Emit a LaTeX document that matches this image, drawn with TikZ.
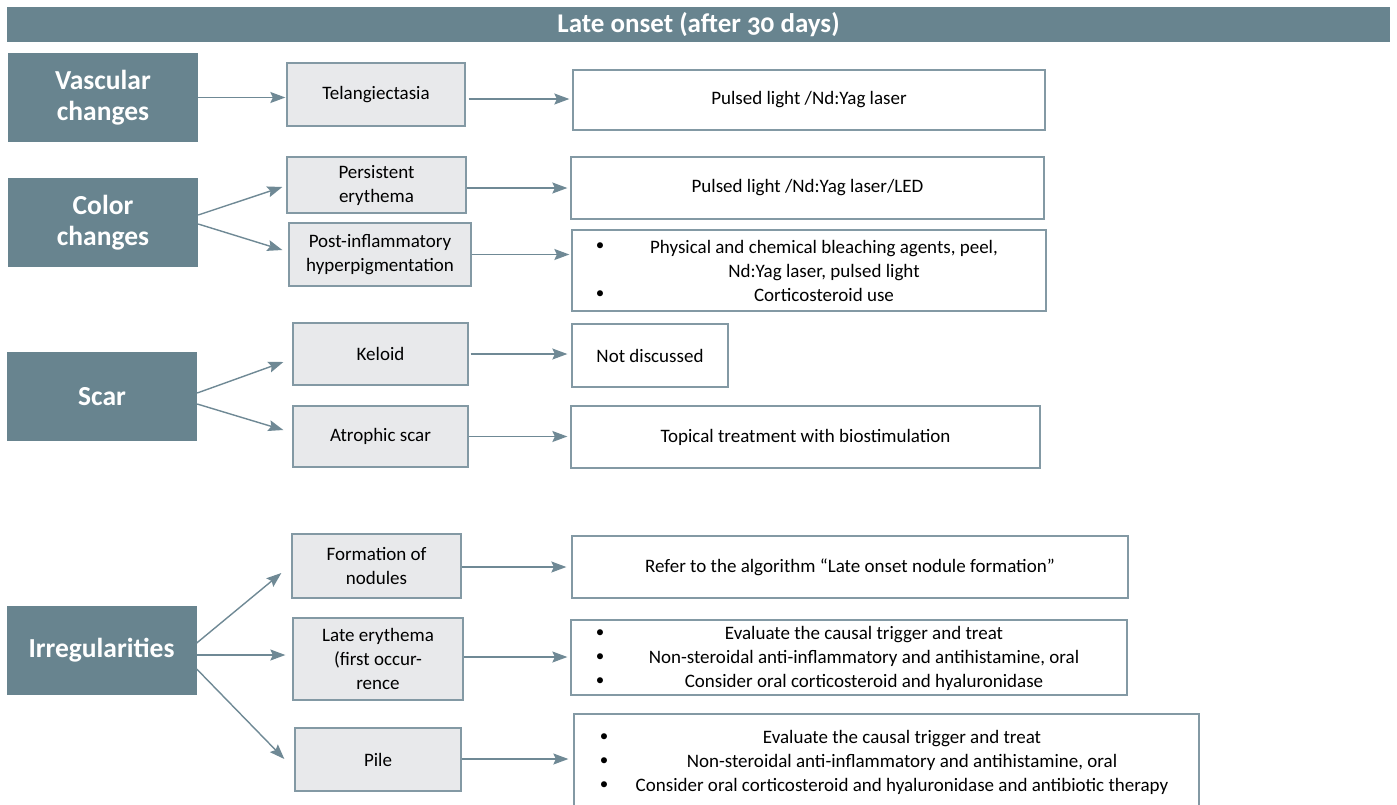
\documentclass[tikz,border=0pt]{standalone}
\usepackage{fontspec}
\setmainfont[Numbers=OldStyle]{Carlito}
\usetikzlibrary{arrows.meta,calc}
\definecolor{catblue}{HTML}{68848F}
\definecolor{edgeblue}{HTML}{8399A4}
\definecolor{subgrey}{HTML}{E8E9EB}
\definecolor{arrowblue}{HTML}{6F8995}
\tikzset{
  cat/.style={fill=catblue, text=white, font=\bfseries\fontsize{27.5}{31}\selectfont, minimum width=190, minimum height=89, inner sep=0, align=center},
  sub/.style={draw=edgeblue, line width=1.3, fill=subgrey, font=\fontsize{19}{24}\selectfont, inner sep=0, align=center},
  res/.style={draw=edgeblue, line width=1.3, fill=white, font=\fontsize{19}{24}\selectfont, inner sep=0, align=center},
  txt/.style={font=\fontsize{19}{24}\selectfont, inner sep=0, align=center},
  bul/.style={font=\fontsize{17}{24}\selectfont, inner sep=0},
  arr/.style={draw=arrowblue, line width=1.4, -{Stealth[length=15,width=11,inset=2.5]}},
}
\begin{document}
\begin{tikzpicture}[x=1pt,y=-1pt]
\useasboundingbox (0,0) rectangle (1397,804);
\clip (0,0) rectangle (1397,804);
\fill[white] (0,0) rectangle (1397,804);
% title
\node[fill=catblue, text=white, font=\bfseries\fontsize{27}{28}\selectfont, minimum width=1383, minimum height=35, inner sep=0] (title) at (698.5,24.5) {Late onset (after 30 days)};
% categories
\node[cat] (vasc) at (103,97.5) {Vascular\\changes};
\node[cat] (color) at (103,222.5) {Color\\changes};
\node[cat] (scar) at (102,396.5) {Scar};
\node[cat] (irr) at (101.5,650.5) {Irregularities};
% sub boxes
\node[sub, minimum width=178, minimum height=63] (tel) at (376,94.5) {Telangiectasia};
\node[sub, minimum width=179, minimum height=56] (pers) at (376.5,185) {Persistent\\erythema};
\node[sub, minimum width=182, minimum height=63] (post) at (380,254.5) {Post-inflammatory\\hyperpigmentation};
\node[sub, minimum width=175, minimum height=62] (kel) at (380.5,354) {Keloid};
\node[sub, minimum width=175, minimum height=61] (atr) at (380.5,436.5) {Atrophic scar};
\node[sub, minimum width=169, minimum height=64] (form) at (376.5,566) {Formation of\\nodules};
\node[sub, minimum width=170, minimum height=82] (late) at (378,659) {Late erythema\\(first occur-\\rence};
\node[sub, minimum width=166, minimum height=63] (pile) at (378,759.5) {Pile};
% result boxes
\node[res, minimum width=472, minimum height=60] (r1) at (809,100) {Pulsed light /Nd:Yag laser};
\node[res, minimum width=473, minimum height=62] (r2) at (807.5,188) {Pulsed light /Nd:Yag laser/LED};
\node[res, minimum width=474, minimum height=81] (r3) at (809,270.5) {};
\node[res, minimum width=156, minimum height=63] (r4) at (650,355.5) {Not discussed};
\node[res, minimum width=469, minimum height=62] (r5) at (805.5,437) {Topical treatment with biostimulation};
\node[res, minimum width=556, minimum height=62] (r6) at (850,567) {Refer to the algorithm \char"201CLate onset nodule formation\char"201D};
\node[res, minimum width=556, minimum height=75] (r7) at (849,657.5) {};
\node[res, minimum width=625, minimum height=96] (r8) at (886.5,762) {};
% bullet lists
\node[txt] (r3t) at (824,271) {Physical and chemical bleaching agents, peel,\\Nd:Yag laser, pulsed light\\Corticosteroid use};
\node[bul] (r3b1) at (600,247) {\textbullet};
\node[bul] (r3b2) at (600,295) {\textbullet};
\node[txt] (r7t) at (864,658) {Evaluate the causal trigger and treat\\Non-steroidal anti-inflammatory and antihistamine, oral\\Consider oral corticosteroid and hyaluronidase};
\node[bul] (r7b1) at (600,634) {\textbullet};
\node[bul] (r7b2) at (600,658) {\textbullet};
\node[bul] (r7b3) at (600,682) {\textbullet};
\node[txt] (r8t) at (902,762) {Evaluate the causal trigger and treat\\Non-steroidal anti-inflammatory and antihistamine, oral\\Consider oral corticosteroid and hyaluronidase and antibiotic therapy};
\node[bul] (r8b1) at (604,738) {\textbullet};
\node[bul] (r8b2) at (604,762) {\textbullet};
\node[bul] (r8b3) at (604,786) {\textbullet};
% arrows left
\coordinate (irrmid) at ([yshift=-4.5]irr.east);
\draw[arr] (vasc.east) -- ([xshift=-1]vasc.east -| tel.west);
\draw[arr] ([yshift=7.5]color.east) -- ([xshift=-4,yshift=-2]pers.west);
\draw[arr] ([yshift=-1.5]color.east) -- ([xshift=-6,yshift=4.5]post.west);
\draw[arr] ([yshift=3.5]scar.east) -- ([xshift=-9,yshift=-8]kel.west);
\draw[arr] ([yshift=-7.5]scar.east) -- ([xshift=-9,yshift=6.5]atr.west);
\draw[arr] ([yshift=7.5]irr.east) -- ([xshift=-10,yshift=-7]form.west);
\draw[arr] (irrmid) -- ([xshift=-7]irrmid -| late.west);
\draw[arr] ([yshift=-18.5]irr.east) -- ([xshift=-10,yshift=0.5]pile.west);
% arrows right
\draw[arr] ([xshift=3,yshift=-4.5]tel.east) -- ([xshift=-3,yshift=-4.5]tel.east -| r1.west);
\draw[arr] ([yshift=-3]pers.east) -- ([xshift=-3,yshift=-3]pers.east -| r2.west);
\draw[arr] (post.east) -- ([xshift=-2]post.east -| r3.west);
\draw[arr] ([xshift=2]kel.east) -- ([xshift=-4]kel.east -| r4.west);
\draw[arr] (atr.east) -- ([xshift=-3]atr.east -| r5.west);
\draw[arr] ([yshift=-1]form.east) -- ([xshift=-5,yshift=-1]form.east -| r6.west);
\draw[arr] ([yshift=2]late.east) -- ([xshift=-3,yshift=2]late.east -| r7.west);
\draw[arr] ([yshift=0.5]pile.east) -- ([xshift=-5,yshift=0.5]pile.east -| r8.west);
\end{tikzpicture}
\end{document}
